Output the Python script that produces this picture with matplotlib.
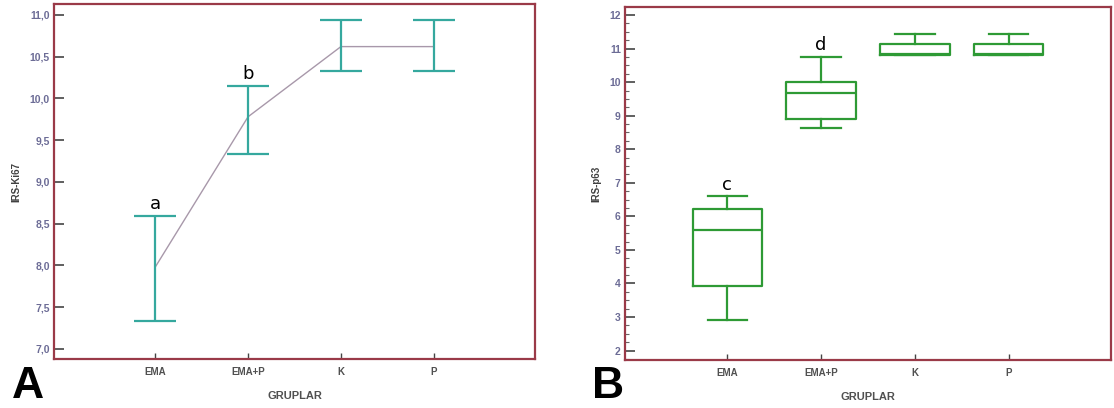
import matplotlib
matplotlib.use("Agg")
import matplotlib.pyplot as plt
from matplotlib.ticker import FuncFormatter, MultipleLocator

# categories
groups = ["EMA", "EMA+P", "K", "P"]

# panel A: IRS-Ki67 means with interval
ki67_mean = [7.98, 9.78, 10.62, 10.62]
ki67_low = [7.33, 9.34, 10.33, 10.33]
ki67_high = [8.59, 10.15, 10.94, 10.94]
ki67_letters = ["a", "b", "", ""]

# panel B: IRS-p63 box summaries
p63_whislo = [2.92, 8.64, 10.80, 10.80]
p63_q1 = [3.92, 8.89, 10.80, 10.80]
p63_med = [5.60, 9.69, 10.83, 10.83]
p63_q3 = [6.22, 9.99, 11.15, 11.15]
p63_whishi = [6.60, 10.76, 11.44, 11.44]
p63_letters = ["c", "d", "", ""]

W, H = 1114, 408
fig = plt.figure(figsize=(W / 100, H / 100), dpi=100)
plt.rcParams['font.family'] = ['Liberation Sans', 'DejaVu Sans']

SPINE = '#9a3a48'
TEAL = '#35a89e'
GREEN = '#2e9a35'
TICKLAB = '#6c6c96'
DARK = '#505050'

x = list(range(1, len(groups) + 1))


def style_axes(ax, ylab, letter, letter_x):
    for s in ax.spines.values():
        s.set_color(SPINE)
        s.set_linewidth(1.6)
    ax.set_xlim(-0.09, 5.09)
    ax.set_xticks(x)
    ax.set_xticklabels(groups, fontsize=7, fontweight='bold', color=DARK)
    ax.tick_params(axis='x', direction='in', length=4, width=1, color='#444444', pad=6)
    ax.tick_params(axis='y', which='major', direction='in', length=7, width=1.2,
                   color='#444444', labelsize=7.5, labelcolor=TICKLAB, pad=3)
    for lab in ax.get_yticklabels():
        lab.set_fontweight('bold')
    ax.set_xlabel("GRUPLAR", fontsize=8, fontweight='bold', color=DARK, labelpad=10)
    ax.set_ylabel(ylab, fontsize=7, fontweight='bold', color='#404040', labelpad=6)
    fig.text(letter_x, 1 / H, letter, fontsize=32, fontweight='bold', color='black',
             ha='left', va='bottom')


# ---- panel A
axA = fig.add_axes([54 / W, (H - 359) / H, (535 - 54) / W, (359 - 4) / H])
yerr = [[m - lo for m, lo in zip(ki67_mean, ki67_low)],
        [hi - m for m, hi in zip(ki67_mean, ki67_high)]]
axA.plot(x, ki67_mean, color='#a898aa', lw=1.0, zorder=2)
axA.errorbar(x, ki67_mean, yerr=yerr, fmt='none', ecolor=TEAL, elinewidth=1.6,
             capsize=15, capthick=1.6, zorder=3)
for xi, hi, t in zip(x, ki67_high, ki67_letters):
    if t:
        axA.text(xi, hi + 0.04, t, fontsize=13, ha='center', va='bottom', color='black',
                 family=['DejaVu Sans'])
axA.set_ylim(6.88, 11.13)
axA.yaxis.set_major_locator(MultipleLocator(0.5))
axA.yaxis.set_major_formatter(FuncFormatter(lambda v, p: f"{v:.1f}".replace('.', ',')))
style_axes(axA, "IRS-Ki67", "A", 12 / W)

# ---- panel B
axB = fig.add_axes([625 / W, (H - 360) / H, (1111 - 625) / W, (360 - 7) / H])
stats = []
for i in range(len(groups)):
    stats.append(dict(whislo=p63_whislo[i], q1=p63_q1[i], med=p63_med[i],
                      q3=p63_q3[i], whishi=p63_whishi[i], fliers=[]))
axB.bxp(stats, positions=x, widths=0.74, showfliers=False,
        boxprops=dict(color=GREEN, lw=1.6),
        medianprops=dict(color=GREEN, lw=1.6),
        whiskerprops=dict(color=GREEN, lw=1.6),
        capprops=dict(color=GREEN, lw=1.6), capwidths=0.42)
for xi, hi, t in zip(x, p63_whishi, p63_letters):
    if t:
        axB.text(xi, hi + 0.08, t, fontsize=13, ha='center', va='bottom', color='black',
                 family=['DejaVu Sans'])
axB.set_ylim(1.72, 12.24)
axB.yaxis.set_major_locator(MultipleLocator(1))
axB.yaxis.set_minor_locator(MultipleLocator(0.25))
axB.tick_params(axis='y', which='minor', direction='in', length=3, width=0.8, color='#666666')
style_axes(axB, "IRS-p63", "B", 592 / W)
axB.set_xticks(x)
axB.set_xticklabels(groups)

fig.savefig("out.png", dpi=100)
